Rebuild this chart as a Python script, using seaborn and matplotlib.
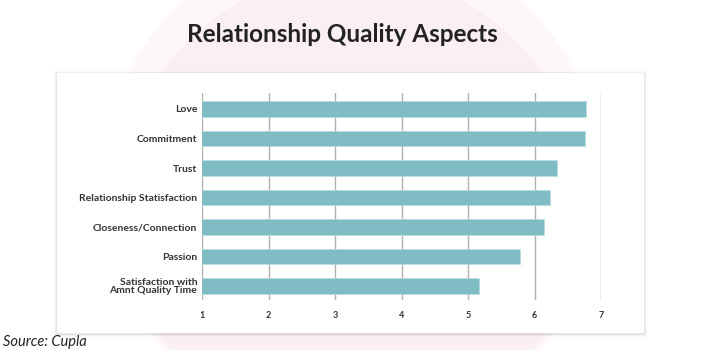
import matplotlib
matplotlib.use("Agg")
import matplotlib.pyplot as plt
import seaborn as sns
import pandas as pd
from matplotlib.patches import Circle, Rectangle

categories = ["Love", "Commitment", "Trust", "Relationship Statisfaction",
              "Closeness/Connection", "Passion", "Satisfaction with\nAmnt Quality Time"]
values = [6.78, 6.76, 6.34, 6.24, 6.14, 5.78, 5.17]
x_ticks = [1, 2, 3, 4, 5, 6, 7]
title = "Relationship Quality Aspects"
source = "Source: Cupla"

df = pd.DataFrame({"aspect": categories, "score": values})

sns.set_theme(style="white")
plt.rcParams["font.family"] = ["Lato", "DejaVu Sans"]

W, H = 704, 350
fig = plt.figure(figsize=(W / 100, H / 100), dpi=100)
fig.patch.set_facecolor("white")

bg = fig.add_axes([0, 0, 1, 1], zorder=0)
bg.set_xlim(0, W)
bg.set_ylim(H, 0)
bg.axis("off")
bg.add_patch(Circle((352, 185), 250, color="#fdf7f8", lw=0))
bg.add_patch(Circle((352, 205), 232, color="#faeff2", lw=0))
for i, a in enumerate([0.025, 0.035, 0.045]):
    d = 3 - i
    bg.add_patch(Rectangle((57 - d, 73 - d + 1), 587 + 2 * d, 260 + 2 * d,
                           color="black", alpha=a, lw=0))
bg.add_patch(Rectangle((57, 73), 587, 260, facecolor="white", lw=0))

bg.text(342, 34, title, ha="center", va="center", fontsize=17.5,
        fontweight="bold", color="#222222")
bg.text(3, 342, source, ha="left", va="center", fontsize=10.5,
        style="italic", color="#222222")

ax = fig.add_axes([202 / W, 1 - 300 / H, (601 - 202) / W, (300 - 93) / H], zorder=2)
ax.set_facecolor("none")
sns.barplot(data=df, y="aspect", x="score", orient="h", color="#7fbcc3",
            saturation=1, width=0.53, ax=ax, edgecolor="#b5dde0", linewidth=0.5)
ax.set_xlim(1, 7)
ax.set_ylim(6.47, -0.54)
ax.set_xticks(x_ticks)
ax.set_xticklabels([str(t) for t in x_ticks], fontsize=6.5, fontweight="bold", color="#333333")
ax.grid(axis="x", color="#b0b0b0", linewidth=1)
ax.set_axisbelow(True)
for s in ax.spines.values():
    s.set_visible(False)
ax.tick_params(axis="x", length=0, pad=8)
ax.tick_params(axis="y", length=0, pad=3.5)
for lbl in ax.get_yticklabels():
    lbl.set_fontsize(7.5)
    lbl.set_fontweight("bold")
    lbl.set_color("#333333")
    lbl.set_linespacing(0.9)
ax.set_xlabel("")
ax.set_ylabel("")

fig.savefig("out.png", dpi=100)
